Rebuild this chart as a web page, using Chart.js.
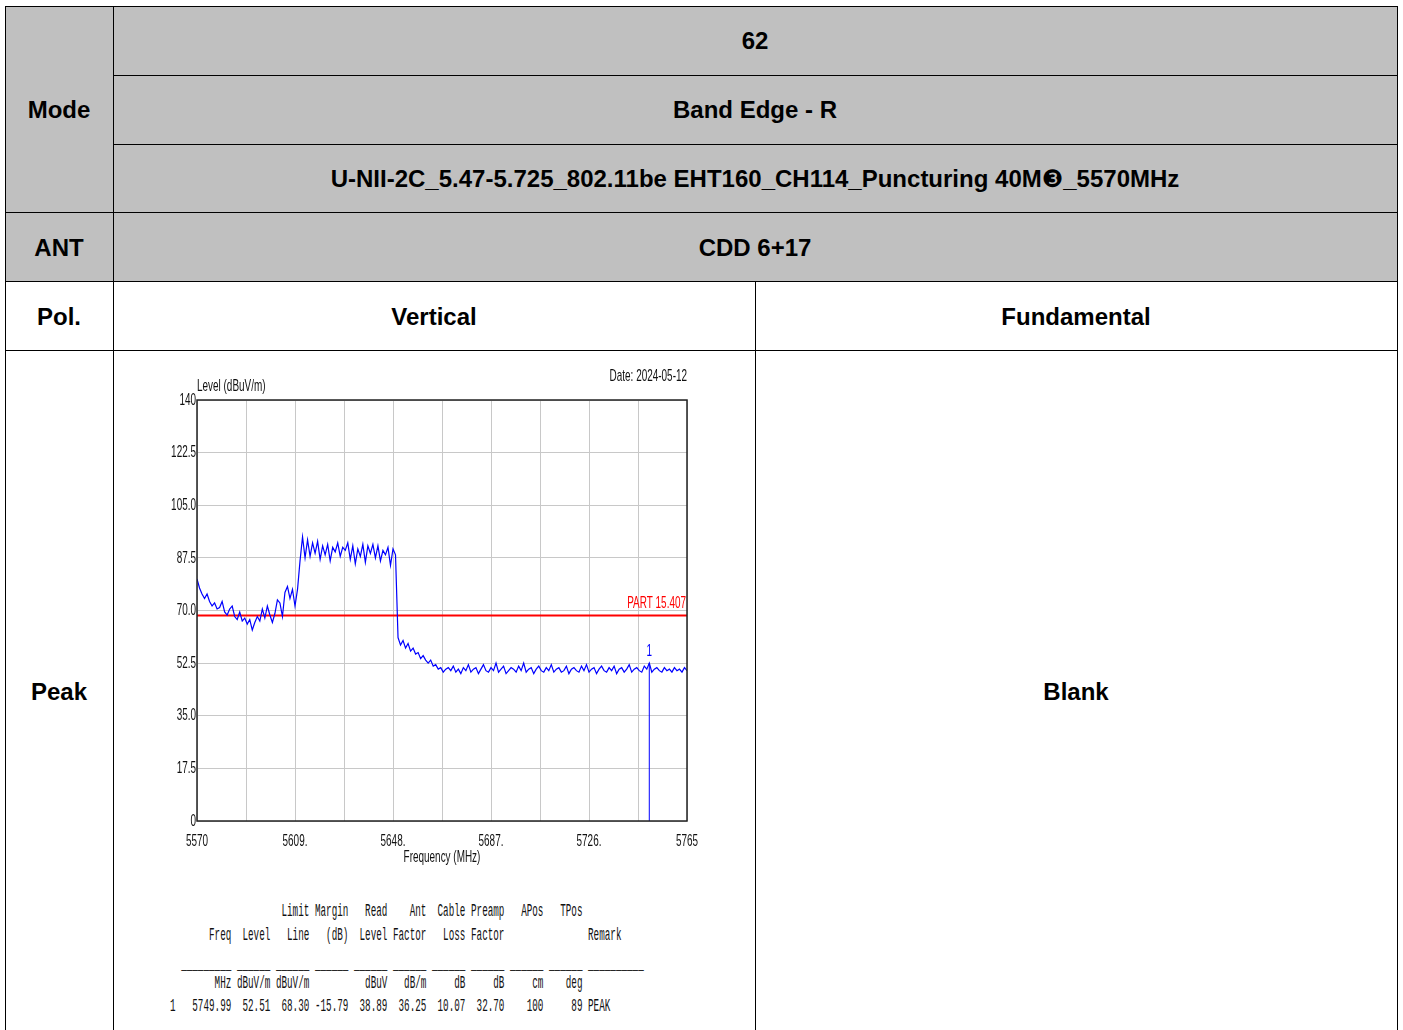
<!DOCTYPE html>
<html>
<head>
<meta charset="utf-8">
<script src="https://cdn.jsdelivr.net/npm/chart.js@4"></script>
<style>
html,body{margin:0;padding:0;background:#fff;width:1403px;height:1030px;overflow:hidden;}
.hl{position:absolute;height:1px;background:#000;}
.vl{position:absolute;width:1px;background:#000;}
.cell{position:absolute;display:flex;align-items:center;justify-content:center;font-family:"Liberation Sans",Arial,sans-serif;font-weight:bold;font-size:24px;color:#000;white-space:nowrap;}
.gray{position:absolute;background:#c0c0c0;}
.circ{font-family:"DejaVu Sans",sans-serif;font-weight:normal;font-size:24px;}
.mono{position:absolute;left:169.6px;font-family:"Liberation Mono","DejaVu Sans Mono",monospace;font-size:18px;line-height:18px;white-space:pre;transform-origin:0 50%;transform:scaleX(0.516);color:#111;}
#wrap{position:absolute;left:130px;top:360px;width:590px;height:520px;}
</style>
</head>
<body>
<div class="gray" style="left:5px;top:6px;width:1392px;height:275px;"></div>

<div class="cell" style="left:5px;top:6px;width:108px;height:208px;">Mode</div>
<div class="cell" style="left:113px;top:6px;width:1284px;height:69px;">62</div>
<div class="cell" style="left:113px;top:75px;width:1284px;height:69px;">Band Edge - R</div>
<div class="cell" style="left:113px;top:144px;width:1284px;height:69px;"><span>U-NII-2C_5.47-5.725_802.11be EHT160_CH114_Puncturing 40M<span class="circ">❸</span>_5570MHz</span></div>
<div class="cell" style="left:5px;top:212px;width:108px;height:71px;">ANT</div>
<div class="cell" style="left:113px;top:212px;width:1284px;height:71px;">CDD 6+17</div>
<div class="cell" style="left:5px;top:281px;width:108px;height:71px;">Pol.</div>
<div class="cell" style="left:113px;top:281px;width:642px;height:71px;">Vertical</div>
<div class="cell" style="left:755px;top:281px;width:642px;height:71px;">Fundamental</div>
<div class="cell" style="left:5px;top:350px;width:108px;height:684px;">Peak</div>
<div class="cell" style="left:755px;top:350px;width:642px;height:684px;">Blank</div>

<div class="hl" style="left:5px;top:6px;width:1393px;"></div>
<div class="hl" style="left:113px;top:75px;width:1285px;"></div>
<div class="hl" style="left:113px;top:144px;width:1285px;"></div>
<div class="hl" style="left:5px;top:212px;width:1393px;"></div>
<div class="hl" style="left:5px;top:281px;width:1393px;"></div>
<div class="hl" style="left:5px;top:350px;width:1393px;"></div>
<div class="vl" style="left:5px;top:6px;height:1030px;"></div>
<div class="vl" style="left:113px;top:6px;height:1030px;"></div>
<div class="vl" style="left:755px;top:281px;height:760px;"></div>
<div class="vl" style="left:1397px;top:6px;height:1030px;"></div>

<div id="wrap"><canvas id="c"></canvas></div>

<div class="mono" style="top:902px;">                    Limit Margin   Read    Ant  Cable Preamp   APos   TPos</div>
<div class="mono" style="top:926px;">       Freq  Level   Line   (dB)  Level Factor   Loss Factor               Remark</div>
<div class="mono" style="top:955px;">  _________ ______ ______ ______ ______ ______ ______ ______ ______ ______ __________</div>
<div class="mono" style="top:974px;">        MHz dBuV/m dBuV/m          dBuV   dB/m     dB     dB     cm    deg</div>
<div class="mono" style="top:997px;">1   5749.99  52.51  68.30 -15.79  38.89  36.25  10.07  32.70    100     89 PEAK</div>

<script>
// ---- data ----
const freqStart = 5570;      // MHz
const freqStep = 1;          // MHz per sample
const levels = [
 80.5,77.5,75.5,74,75.5,73,71.5,72.5,70.5,71,
 73,69.5,68.5,70.5,71.5,68,67,69.5,66.5,67.5,
 65.5,67,63.5,66,68,66.5,70.5,67.5,71.5,68.5,
 66,69,73.5,72.5,68,76,78,74,77,71.5,
 77,86.5,94.5,87.5,93.5,88,92.5,89,93,87,
 91.5,88.5,92,86.5,91,89.5,92.5,88,91,90,
 92.5,87,91.5,85.5,90.5,88,92,86,91.5,89,
 92,87.5,91.5,86.5,90,88.5,91,85,90.5,88.5,
 61,58.5,60,57.5,59,56.5,57.5,55.5,56,54,
 55,53.5,52.5,53.5,51.5,52,50.5,51,49.5,50.5,
 51,50,51.5,49.5,50.5,49,51,50,52,49.5,
 50.5,51,49,50.5,52,50,49.5,51,50,52.5,
 49.5,50.5,51.5,49,50,51,50.5,49.5,51.5,50,
 52.5,49.5,50.5,51,49,50.5,51.5,50,49.5,51,
 50,52,49.5,50.5,51,49.5,50,51.5,49,50.5,
 51,50,49.5,51.5,50,52,49.5,50.5,51,49,
 50.5,51.5,50,49.5,51,50,51.5,49,50.5,51,
 49.5,50.5,52,49.5,50.5,51,50,49.5,51.5,50.5,
 52.5,49.5,50.5,51,50,49.5,51,50,50.5,49.5,
 51,50,50.5,49.5,51,50
];
const limitLevel = 68.3;
const limitLabel = "PART 15.407";
const markerFreq = 5749.99;
const markerLevel = 52.51;
const markerLabel = "1";
const xMin = 5570, xMax = 5765, xStep = 19.5;
const xTickLabels = {"5570":"5570","5609":"5609.","5648":"5648.","5687":"5687.","5726":"5726.","5765":"5765"};
const yMin = 0, yMax = 140, yStep = 17.5;
const yTickLabels = {"0":"0","17.5":"17.5","35":"35.0","52.5":"52.5","70":"70.0","87.5":"87.5","105":"105.0","122.5":"122.5","140":"140"};
const yTitle = "Level (dBuV/m)";
const xTitle = "Frequency (MHz)";
const dateText = "Date: 2024-05-12";

// ---- build ----
const trace = levels.map((v,i)=>({x: freqStart + i*freqStep, y: v}));
const limitData = [{x:xMin,y:limitLevel},{x:xMax,y:limitLevel}];
const markerData = [{x:markerFreq,y:yMin},{x:markerFreq,y:markerLevel}];

const FAM = "'Liberation Sans', Arial, sans-serif";
const FS = 17;
const SQUEEZE = 0.585;   // condensed look of the analyser font

const canvas = document.getElementById('c');
const ctx2d = canvas.getContext('2d');
const origFill = ctx2d.fillText.bind(ctx2d);
ctx2d.fillText = function(t, x, y){
  this.save(); this.translate(x, y); this.scale(SQUEEZE, 1); origFill(t, 0, 0); this.restore();
};

const annot = {
  id:'annot',
  afterDraw(chart){
    const {ctx, chartArea:a, scales:{x,y}} = chart;
    ctx.save();
    ctx.strokeStyle = '#222';
    ctx.lineWidth = 1.5;
    ctx.strokeRect(a.left, a.top, a.right-a.left, a.bottom-a.top);
    ctx.font = FS + "px " + FAM;
    ctx.fillStyle = '#111';
    ctx.textBaseline = 'middle';
    ctx.textAlign = 'left';
    ctx.fillText(yTitle, a.left, a.top - 14);
    ctx.textAlign = 'right';
    ctx.fillText(dateText, a.right, a.top - 24);
    ctx.fillStyle = '#ff0000';
    ctx.fillText(limitLabel, a.right - 1, y.getPixelForValue(limitLevel) - 12);
    ctx.fillStyle = '#0000ff';
    ctx.textAlign = 'center';
    ctx.fillText(markerLabel, x.getPixelForValue(markerFreq), y.getPixelForValue(markerLevel) - 12);
    ctx.restore();
  }
};

new Chart(canvas, {
  type:'line',
  data:{datasets:[
    {data:trace, borderColor:'#0000ff', borderWidth:1.2, pointRadius:0, tension:0, order:1},
    {data:limitData, borderColor:'#ff0000', borderWidth:2, pointRadius:0, order:2},
    {data:markerData, borderColor:'#0000ff', borderWidth:1, pointRadius:0, order:0}
  ]},
  options:{
    responsive:true, maintainAspectRatio:false, animation:false,
    layout:{padding:{left:0,right:33,top:40,bottom:0}},
    plugins:{legend:{display:false}, tooltip:{enabled:false}},
    scales:{
      x:{type:'linear', min:xMin, max:xMax,
        afterBuildTicks(s){ const t=[]; for(let v=xMin; v<=xMax+0.01; v+=xStep) t.push({value:+v.toFixed(2)}); s.ticks=t; },
        afterFit(s){ s.height = 59; },
        grid:{color:'#c8c8c8', borderDash:[2,1], drawTicks:false, lineWidth:1},
        border:{display:false},
        ticks:{padding:10, maxRotation:0, autoSkip:false, color:'#111', font:{family:FAM,size:FS},
          callback:(v)=> xTickLabels[String(v)] ?? ''},
        title:{display:true, text:xTitle, color:'#111', font:{family:FAM,size:FS}, padding:{top:0,bottom:12}}
      },
      y:{type:'linear', min:yMin, max:yMax,
        afterBuildTicks(s){ const t=[]; for(let v=yMin; v<=yMax+0.01; v+=yStep) t.push({value:v}); s.ticks=t; },
        afterFit(s){ s.width = 67; },
        grid:{color:'#c8c8c8', borderDash:[2,1], drawTicks:false, lineWidth:1},
        border:{display:false},
        ticks:{padding:1, autoSkip:false, color:'#111', font:{family:FAM,size:FS},
          callback:(v)=> yTickLabels[String(v)] ?? ''}
      }
    }
  },
  plugins:[annot]
});
</script>
</body>
</html>
